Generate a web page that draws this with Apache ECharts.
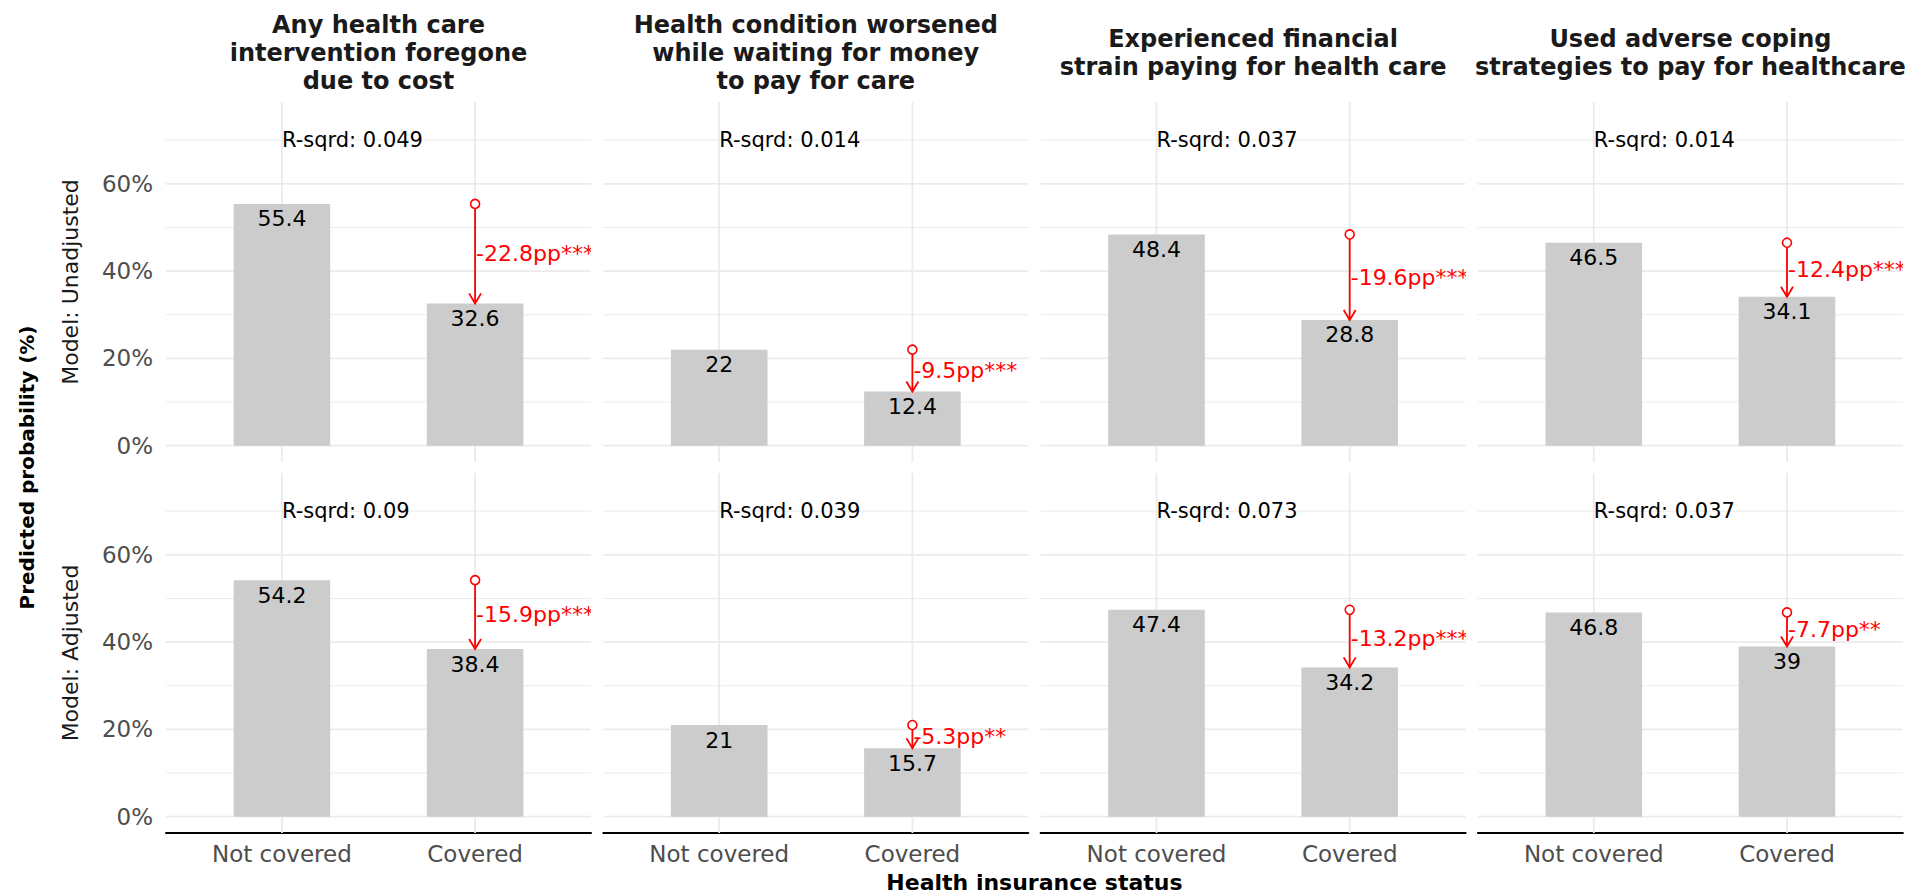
<!DOCTYPE html>
<html lang="en">
<head>
  <meta charset="UTF-8">
  <title>Predicted probability by health insurance status</title>
  <style>
    html, body { margin: 0; padding: 0; background: #fff; }
  </style>
</head>
<body>
  <div id="main" style="width: 1906px; height: 891px;"></div>
</body>

<script src="https://cdn.jsdelivr.net/npm/echarts@6/dist/echarts.min.js"></script>

<script>
  // ---- data ----
  const outcomes = [
    'Any health care\nintervention foregone\ndue to cost',
    'Health condition worsened\nwhile waiting for money\nto pay for care',
    'Experienced financial\nstrain paying for health care',
    'Used adverse coping\nstrategies to pay for healthcare'
  ];
  const models = ['Model: Unadjusted', 'Model: Adjusted'];
  const statuses = ['Not covered', 'Covered'];

  const notCoveredUnadj = [55.4, 22, 48.4, 46.5];
  const coveredUnadj = [32.6, 12.4, 28.8, 34.1];
  const diffUnadj = ['-22.8pp***', '-9.5pp***', '-19.6pp***', '-12.4pp***'];
  const rsqUnadj = [0.049, 0.014, 0.037, 0.014];

  const notCoveredAdj = [54.2, 21, 47.4, 46.8];
  const coveredAdj = [38.4, 15.7, 34.2, 39];
  const diffAdj = ['-15.9pp***', '-5.3pp**', '-13.2pp***', '-7.7pp**'];
  const rsqAdj = [0.09, 0.039, 0.073, 0.037];

  const yTicks = [0, 20, 40, 60];
  const yMinorTicks = [10, 30, 50, 70];

  // ---- layout ----
  const FONT = 'DejaVu Sans';
  const RED = '#ff0000';
  const GRID = '#ebebeb';
  const panelLeft = 166, panelPitch = 437.3, panelW = 425;
  const rowTop = [102, 473], panelH = 360;
  const xMin = 0.4, xMax = 2.6, yMin = -3.75, yMax = 78.75;
  const rsqAt = 70;
  const barW = panelW / (xMax - xMin) * 0.5;

  const rows = [
    { nc: notCoveredUnadj, cv: coveredUnadj, diff: diffUnadj, rsq: rsqUnadj },
    { nc: notCoveredAdj, cv: coveredAdj, diff: diffAdj, rsq: rsqAdj }
  ];

  const myChart = echarts.init(document.getElementById('main'), null, { renderer: 'svg' });

  const grid = [], xAxis = [], yAxis = [], series = [], graphic = [];

  function hLine(cs, y, w) {
    return { type: 'line', shape: { x1: cs.x, y1: y, x2: cs.x + cs.width, y2: y },
      style: { stroke: GRID, lineWidth: w } };
  }

  rows.forEach(function (row, r) {
    for (let c = 0; c < 4; c++) {
      const i = r * 4 + c;
      grid.push({
        left: panelLeft + c * panelPitch, top: rowTop[r],
        width: panelW, height: panelH,
        outerBoundsMode: 'none'
      });
      xAxis.push({
        gridIndex: i, type: 'value', min: xMin, max: xMax,
        splitLine: { show: false },
        axisTick: { show: false },
        axisLine: { show: r === 1, onZero: false, lineStyle: { color: '#000', width: 2 } },
        axisLabel: {
          show: r === 1, customValues: [1, 2], margin: 9,
          color: '#4d4d4d', fontSize: 23, fontFamily: FONT,
          formatter: function (v) { return statuses[Math.round(v) - 1]; }
        }
      });
      yAxis.push({
        gridIndex: i, type: 'value', min: yMin, max: yMax,
        splitLine: { show: false },
        axisTick: { show: false },
        axisLine: { show: false },
        axisLabel: {
          show: c === 0, customValues: yTicks, margin: 13,
          color: '#4d4d4d', fontSize: 23, fontFamily: FONT,
          formatter: function (v) { return v + '%'; }
        }
      });

      // panel grid lines
      series.push({
        type: 'custom', xAxisIndex: i, yAxisIndex: i, z: 1, silent: true,
        data: [[1, 0]],
        renderItem: function (params, api) {
          const cs = params.coordSys;
          const children = [];
          yMinorTicks.forEach(function (v) { children.push(hLine(cs, api.coord([1, v])[1], 1)); });
          yTicks.forEach(function (v) { children.push(hLine(cs, api.coord([1, v])[1], 1.8)); });
          [1, 2].forEach(function (x) {
            const px = api.coord([x, 0])[0];
            children.push({ type: 'line', shape: { x1: px, y1: cs.y, x2: px, y2: cs.y + cs.height },
              style: { stroke: GRID, lineWidth: 1.8 } });
          });
          return { type: 'group', children: children };
        }
      });

      // bars
      series.push({
        type: 'bar', xAxisIndex: i, yAxisIndex: i, z: 2, silent: true,
        barWidth: barW,
        data: [[1, row.nc[c]], [2, row.cv[c]]],
        itemStyle: { color: '#cccccc' },
        label: {
          show: true, position: 'insideTop', distance: 4,
          color: '#000', fontSize: 22, fontFamily: FONT,
          formatter: function (p) { return String(p.value[1]); }
        }
      });

      // R-squared text
      const rsqText = 'R-sqrd: ' + row.rsq[c];
      series.push({
        type: 'custom', xAxisIndex: i, yAxisIndex: i, z: 3, silent: true,
        data: [[1, rsqAt]],
        renderItem: function (params, api) {
          const p = api.coord([api.value(0), api.value(1)]);
          return { type: 'text', x: p[0], y: p[1],
            style: { text: rsqText, fill: '#000', fontSize: 21, fontFamily: FONT,
              align: 'left', textAlign: 'left', verticalAlign: 'middle', textVerticalAlign: 'middle' } };
        }
      });

      // difference arrow
      const diffText = row.diff[c];
      series.push({
        type: 'custom', xAxisIndex: i, yAxisIndex: i, z: 4, silent: true, clip: true,
        data: [[2, row.nc[c], row.cv[c]]],
        encode: { x: 0, y: [1, 2] },
        renderItem: function (params, api) {
          const p1 = api.coord([api.value(0), api.value(1)]);
          const p2 = api.coord([api.value(0), api.value(2)]);
          const rad = 4.5;
          return { type: 'group', children: [
            { type: 'line', shape: { x1: p1[0], y1: p1[1] + rad, x2: p2[0], y2: p2[1] },
              style: { stroke: RED, lineWidth: 1.8 } },
            { type: 'polyline', shape: { points: [[p2[0] - 6, p2[1] - 10], [p2[0], p2[1]], [p2[0] + 6, p2[1] - 10]] },
              style: { stroke: RED, lineWidth: 1.8, fill: null } },
            { type: 'circle', shape: { cx: p1[0], cy: p1[1], r: rad },
              style: { stroke: RED, fill: '#fff', lineWidth: 1.6 } },
            { type: 'text', x: p2[0] + 1, y: (p1[1] + p2[1]) / 2,
              style: { text: diffText, fill: RED, fontSize: 22, fontFamily: FONT,
                align: 'left', textAlign: 'left', verticalAlign: 'middle', textVerticalAlign: 'middle' } }
          ] };
        }
      });
    }
  });

  // facet titles
  outcomes.forEach(function (t, c) {
    graphic.push({
      type: 'text', x: panelLeft + c * panelPitch + panelW / 2, y: 53, silent: true,
      style: { text: t, fill: '#1a1a1a', fontSize: 24, fontWeight: 'bold', fontFamily: FONT,
        lineHeight: 28, align: 'center', textAlign: 'center', verticalAlign: 'middle', textVerticalAlign: 'middle' }
    });
  });
  // row strips
  models.forEach(function (m, r) {
    graphic.push({
      type: 'text', x: 70, y: rowTop[r] + panelH / 2, rotation: Math.PI / 2, silent: true,
      style: { text: m, fill: '#1a1a1a', fontSize: 22, fontFamily: FONT,
        align: 'center', textAlign: 'center', verticalAlign: 'middle', textVerticalAlign: 'middle' }
    });
  });
  graphic.push({
    type: 'text', x: 27, y: (rowTop[0] + rowTop[1] + panelH) / 2, rotation: Math.PI / 2, silent: true,
    style: { text: 'Predicted probability (%)', fill: '#000', fontSize: 20, fontWeight: 'bold', fontFamily: FONT,
      align: 'center', textAlign: 'center', verticalAlign: 'middle', textVerticalAlign: 'middle' }
  });
  graphic.push({
    type: 'text', x: panelLeft + (3 * panelPitch + panelW) / 2, y: 882, silent: true,
    style: { text: 'Health insurance status', fill: '#000', fontSize: 22, fontWeight: 'bold', fontFamily: FONT,
      align: 'center', textAlign: 'center', verticalAlign: 'middle', textVerticalAlign: 'middle' }
  });

  const option = {
    animation: false,
    backgroundColor: '#fff',
    grid: grid,
    xAxis: xAxis,
    yAxis: yAxis,
    series: series,
    graphic: graphic
  };

  myChart.setOption(option);
</script>

</html>
